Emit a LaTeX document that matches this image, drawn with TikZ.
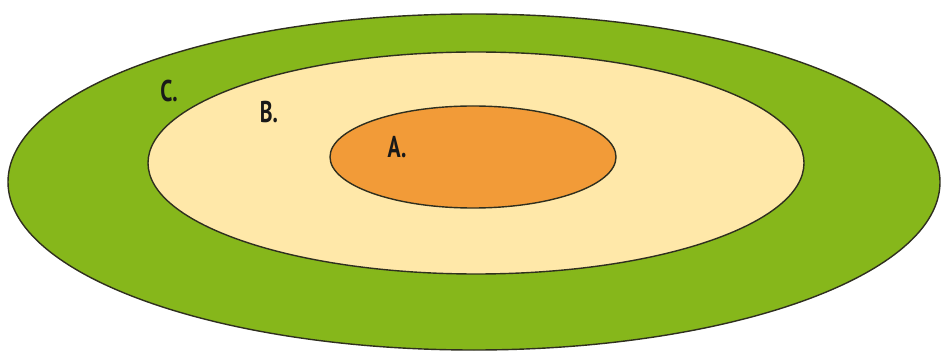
\documentclass[tikz,border=0pt]{standalone}
\usepackage{fontspec}
\setmainfont{PT Sans}
\definecolor{ringgreen}{HTML}{86B71B}
\definecolor{ringcream}{HTML}{FFE8A9}
\definecolor{ringorange}{HTML}{F29B38}
\definecolor{ringline}{HTML}{2F2F1F}
\tikzset{
  ring/.style={draw=ringline, line width=1.4pt},
  lbl/.style={font=\fontsize{30}{30}\selectfont\bfseries, text=black!90, inner sep=0pt, xscale=0.72}
}
\begin{document}
\begin{tikzpicture}[x=1pt,y=-1pt]
\useasboundingbox (0,0) rectangle (941,352);
\fill[white] (0,0) rectangle (941,352);
\path[ring, fill=ringgreen] (474,182) ellipse [x radius=466, y radius=168];
\path[ring, fill=ringcream] (476,163) ellipse [x radius=328, y radius=111];
\path[ring, fill=ringorange] (473,157) ellipse [x radius=143, y radius=51];
\node[lbl] (c) at (169,91) {C.};
\node[lbl] (b) at (269,112) {B.};
\node[lbl] (a) at (397,147) {A.};
\end{tikzpicture}
\end{document}
